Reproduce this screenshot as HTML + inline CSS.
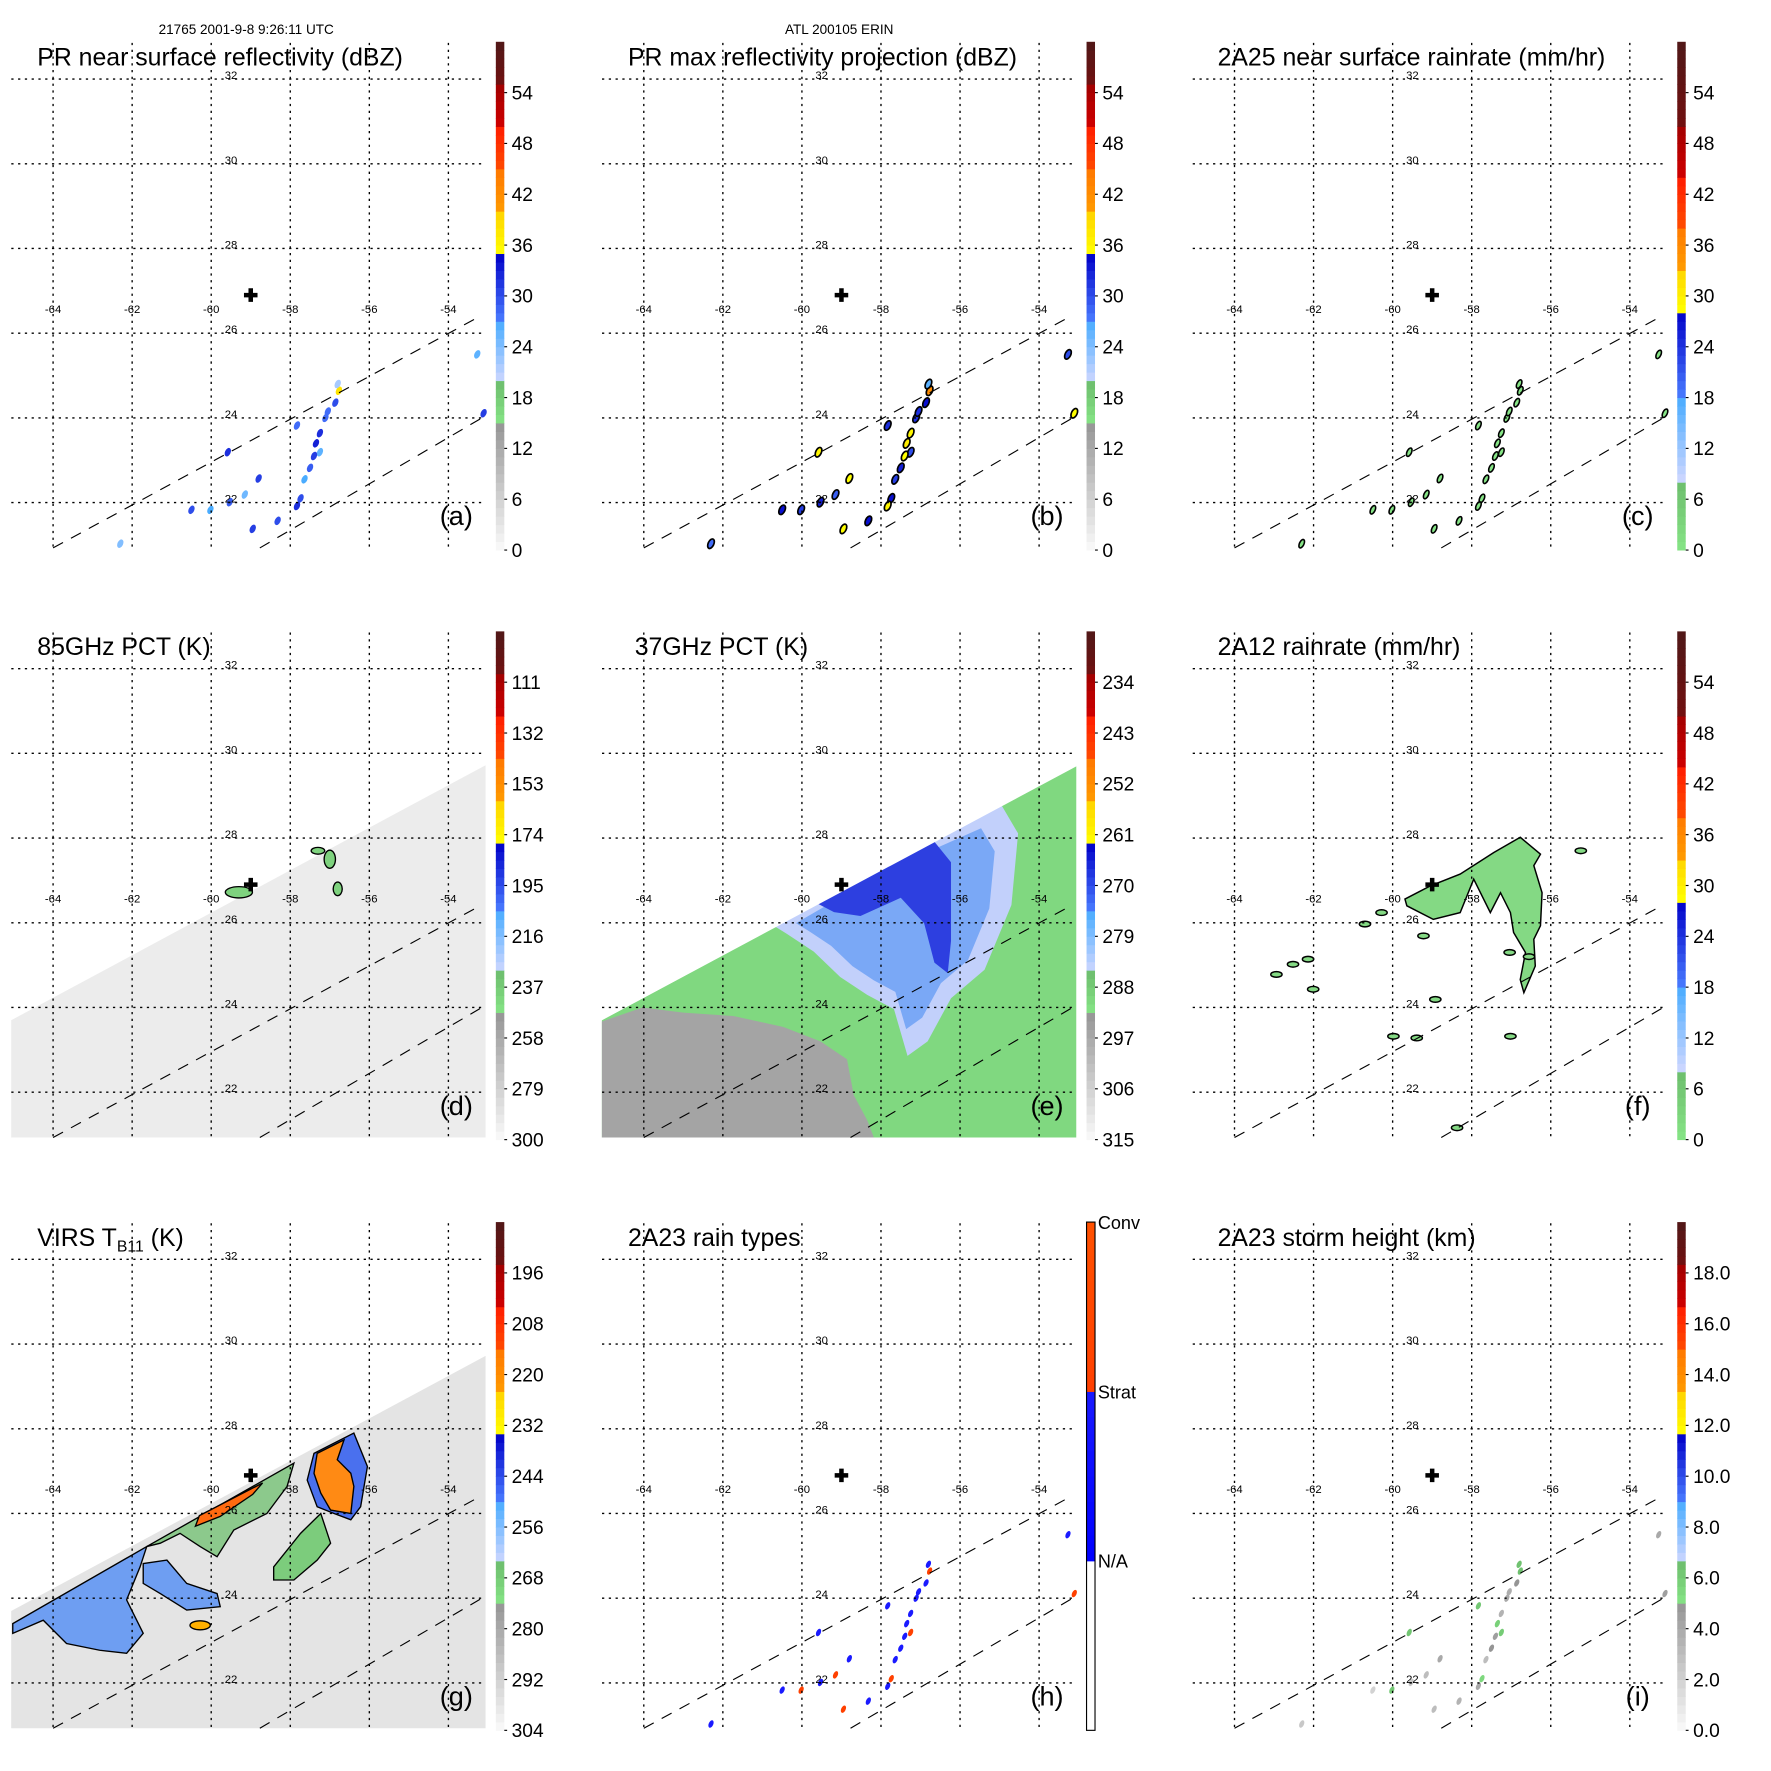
<!DOCTYPE html>
<html><head><meta charset="utf-8"><style>
html,body{margin:0;padding:0;background:#fff;}
svg{display:block;font-family:"Liberation Sans",Arial,sans-serif;}
</style></head><body>
<svg id="fig" width="1771" height="1771" viewBox="0 0 1568 1568" xmlns="http://www.w3.org/2000/svg">
<text x="218" y="30" font-size="12" text-anchor="middle">21765 2001-9-8 9:26:11 UTC</text>
<text x="743" y="30" font-size="12" text-anchor="middle">ATL 200105 ERIN</text>
</svg>
<script>
// ---- data arrays ----
const lonTicks = [-64,-62,-60,-58,-56,-54];
const latTicks = [32,30,28,26,24,22];
const panelTitles = ["PR near surface reflectivity (dBZ)","PR max reflectivity projection (dBZ)","2A25 near surface rainrate (mm/hr)","85GHz PCT (K)","37GHz PCT (K)","2A12 rainrate (mm/hr)","VIRS T","2A23 rain types","2A23 storm height (km)"];
const panelLetters = ["(a)","(b)","(c)","(d)","(e)","(f)","(g)","(h)","(i)"];
const tickA = ["0","6","12","18","24","30","36","42","48","54"];
const tickD = ["300","279","258","237","216","195","174","153","132","111"];
const tickE = ["315","306","297","288","279","270","261","252","243","234"];
const tickG = ["304","292","280","268","256","244","232","220","208","196"];
const tickI = ["0.0","2.0","4.0","6.0","8.0","10.0","12.0","14.0","16.0","18.0"];
const tickH = ["N/A","Strat","Conv"];
const centerLon = -59.0, centerLat = 26.9;
// PR echo cells (lon, lat)
const cellLon = [-56.77,-56.86,-57.11,-57.25,-57.25,-57.40,-57.50,-57.64,-57.74,-57.83,-57.83,-59.58,-58.80,-59.15,-59.53,-60.02,-60.50,-62.30,-58.95,-58.32,-53.27,-53.11,-56.80,-57.05,-57.35];
const cellLat = [24.64,24.36,24.00,23.64,23.19,23.10,22.82,22.55,22.10,21.92,23.82,23.19,22.57,22.19,22.01,21.83,21.83,21.03,21.38,21.57,25.50,24.11,24.80,24.15,23.40];
const cellDbz = [38,30,28,32,26,31,29,27,30,32,28,32,31,25,29,27,30,24,31,30,26,31,22,28,33];
const cellType = [2,1,1,1,2,1,1,1,2,1,1,1,1,2,1,2,1,1,2,1,1,2,1,1,1];
const cellHeight = [6.5,5,4,3.5,6,4.5,5,3,5.5,4,6.2,6.3,4,3,2.5,6.1,2,2.5,3,3.5,4,4.5,6.4,3.8,5.8];
// PMW swath upper edge (lon, lat)
const swathLon = [-65.06,-53.06];
const swathLat = [23.70,29.72];
// 37GHz regions
const grayLon = [-65.06,-64.03,-63.0,-61.74,-60.47,-59.53,-58.86,-58.69,-58.35,-58.18,-65.06];
const grayLat = [23.67,24.0,23.88,23.8,23.54,23.2,22.78,21.93,21.34,20.93,20.93];
const lblueLon = [-60.81,-59.70,-58.35,-56.82,-54.96,-54.53,-54.70,-55.38,-56.23,-56.82,-57.33,-57.67,-58.35,-59.03,-59.70,-60.38];
const lblueLat = [25.99,26.59,27.26,28.02,28.79,28.11,26.42,24.89,24.22,23.20,22.86,23.96,24.30,24.72,25.32,25.74];
const dblueLon = [-59.70,-57.75,-56.74,-56.23,-56.23,-56.31,-56.65,-56.91,-57.50,-58.52,-59.19];
const dblueLat = [26.50,27.43,28.02,27.43,25.57,24.81,25.06,25.99,26.59,26.16,26.25];
// 2A12 rain region
const rainLon = [-59.69,-59.05,-58.29,-57.44,-56.77,-56.26,-56.43,-56.22,-56.26,-56.43,-56.39,-56.68,-56.77,-56.64,-56.94,-57.02,-57.27,-57.53,-57.95,-58.29,-58.97,-59.64];
const rainLat = [26.56,26.87,27.15,27.66,28.02,27.62,27.35,26.71,25.93,25.61,24.98,24.35,24.66,25.30,25.77,26.24,26.71,26.24,27.03,26.24,26.08,26.40];
const rainBlobLon = [-59.22,-62.94,-62.52,-62.14,-62.01,-60.70,-60.28,-59.98,-59.39,-58.92,-57.02,-57.04,-55.24,-58.37,-56.55];
const rainBlobLat = [25.69,24.78,25.02,25.14,24.43,25.97,26.24,23.32,23.28,24.19,23.32,25.30,27.70,21.16,25.20];
// VIRS cloud regions
const virs1Lon = [-65.02,-61.63,-61.80,-62.14,-61.72,-62.14,-62.82,-63.66,-64.25,-65.02];
const virs1Lat = [23.40,25.22,24.74,23.96,23.17,22.70,22.77,22.93,23.48,23.17];
const virs2Lon = [-61.63,-57.91,-58.08,-58.59,-59.43,-59.85,-60.28,-60.79,-61.29];
const virs2Lat = [25.22,27.19,26.64,26.00,25.61,24.98,25.22,25.53,25.30];
const virs3Lon = [-61.72,-61.12,-60.62,-59.85,-59.77,-60.62,-61.29,-61.72];
const virs3Lat = [24.82,24.90,24.35,24.11,23.80,23.72,24.11,24.35];
const virs4Lon = [-57.40,-56.39,-56.05,-56.22,-56.47,-56.89,-57.32,-57.57];
const virs4Lat = [27.42,27.90,27.11,26.16,25.85,26.00,26.16,26.79];
const virsOrLon = [-57.32,-56.64,-56.81,-56.47,-56.39,-56.47,-56.98,-57.23,-57.40];
const virsOrLat = [27.42,27.74,27.27,26.95,26.64,26.00,26.08,26.48,26.95];
const virsEdgeLon = [-60.30,-58.70,-58.95,-59.77,-60.40];
const virsEdgeLat = [25.95,26.72,26.45,25.93,25.70];
const virsGrLon = [-58.42,-57.74,-57.23,-56.98,-57.32,-57.91,-58.42];
const virsGrLat = [24.74,25.53,26.00,25.30,24.90,24.43,24.43];

// ---- helpers ----
const NS="http://www.w3.org/2000/svg";
const svg=document.getElementById('fig');
const OX=[0,523,1046], OY=[0,522,1045];
function X(p,lon){return p.ox+47+(lon+64)*35;}
function Y(p,lat){return p.oy+70+(32-lat)*37.5;}
function mk(tag,attrs,parent){const e=document.createElementNS(NS,tag);for(const k in attrs)e.setAttribute(k,attrs[k]);(parent||svg).appendChild(e);return e;}
function poly(p,lons,lats){return lons.map((l,i)=>X(p,l).toFixed(1)+','+Y(p,lats[i]).toFixed(1)).join(' ');}
function lerp(a,b,t){const pa=[1,3,5].map(i=>parseInt(a.substr(i,2),16)),pb=[1,3,5].map(i=>parseInt(b.substr(i,2),16));return 'rgb('+pa.map((v,i)=>Math.round(v+(pb[i]-v)*t)).join(',')+')';}
const bandsA=[[0,0.25,'#fafafa','#959595'],[0.25,0.333,'#86e486','#6cbc6c'],[0.333,0.45,'#ccd6ff','#4aacff'],[0.45,0.583,'#4a7cff','#0000c8'],[0.583,0.667,'#ffff00','#ffd200'],[0.667,0.75,'#ff9a00','#ff7800'],[0.75,0.833,'#ff4a00','#ff1e00'],[0.833,0.917,'#d00000','#a00000'],[0.917,1,'#701010','#501818']];
const bandsC=[[0,0.138,'#86e486','#6cbc6c'],[0.138,0.3,'#ccd6ff','#4aacff'],[0.3,0.47,'#4a7cff','#0000c8'],[0.47,0.556,'#ffff00','#ffd200'],[0.556,0.64,'#ff9a00','#ff7800'],[0.64,0.73,'#ff4a00','#ff1e00'],[0.73,0.84,'#d00000','#a00000'],[0.84,1,'#701010','#501818']];
const bandsH=[[0,0.333,'#ffffff','#ffffff'],[0.333,0.667,'#0000ff','#1a1aff'],[0.667,1,'#ff4000','#ff5000']];
function cmap(b,t){for(const s of b){if(t>=s[0]&&t<=s[1])return lerp(s[2],s[3],(t-s[0])/(s[1]-s[0]));}return '#fff';}

const panels=[];
for(let r=0;r<3;r++)for(let c=0;c<3;c++)panels.push({ox:OX[c],oy:OY[r],i:r*3+c});

panels.forEach(p=>{
  const g=mk('g',{});
  
  
  p.g=g;
});

// ---- background fields ----
function swathPoly(p){return poly(p,[swathLon[0],swathLon[1],-53.06,-65.06],[swathLat[0],swathLat[1],20.93,20.93]);}
// d
{const p=panels[3];
 const s=mk('polygon',{points:swathPoly(p),fill:'#ececec'},p.g);
 
 const gl=[[-59.3,26.72,12,5],[-57.0,27.5,5,8],[-56.8,26.8,4,6],[-57.3,27.7,6,3]];
 gl.forEach(b=>{const e=mk('ellipse',{cx:X(p,b[0]),cy:Y(p,b[1]),rx:b[2],ry:b[3],fill:'#7ed27e',stroke:'#000','stroke-width':1.2},p.g);
  });
}
// e
{const p=panels[4];
 const s=mk('polygon',{points:swathPoly(p),fill:'#80d880'},p.g);
 
 const gr=mk('polygon',{points:poly(p,grayLon,grayLat),fill:'#a4a4a4'},p.g);
 
 const lb=mk('polygon',{points:poly(p,lblueLon,lblueLat),fill:'#c2d0fb'},p.g);
 
 const mb=mk('polygon',{points:poly(p,lblueLon.map((l,i)=>l*0.8+(-57.5)*0.2),lblueLat.map((l,i)=>l*0.8+26*0.2)),fill:'#7aa8f6'},p.g);
 
 const db=mk('polygon',{points:poly(p,dblueLon,dblueLat),fill:'#2d3fe0'},p.g);
 
 const cl=mk('polygon',{points:poly(p,[-65.1,-53.0,-53.0,-65.1],[swathLat[0]+(swathLat[1]-swathLat[0])*(-0.04/12),swathLat[1]+0.003,33,33]),fill:'#fff'},p.g);
 
}
// f
{const p=panels[5];
 const rp=mk('polygon',{points:poly(p,rainLon,rainLat),fill:'#84d984',stroke:'#000','stroke-width':1.3},p.g);
 
 rainBlobLon.forEach((l,i)=>{const e=mk('ellipse',{cx:X(p,l),cy:Y(p,rainBlobLat[i]),rx:5,ry:2.5,fill:'#84d984',stroke:'#000','stroke-width':1.3},p.g);
  });
}
// g
{const p=panels[6];
 const s=mk('polygon',{points:swathPoly(p),fill:'#e4e4e4'},p.g);
 
 const regs=[[virs1Lon,virs1Lat,'#6e9ef2','virs-cloud-west'],[virs2Lon,virs2Lat,'#8cc98c','virs-cloud-band'],[virs3Lon,virs3Lat,'#6e9ef2','virs-cloud-arm'],[virsGrLon,virsGrLat,'#7ccc7c','virs-cloud-green'],[virs4Lon,virs4Lat,'#4a70ee','virs-cloud-east'],[virsOrLon,virsOrLat,'#ff8a14','virs-cold-top-east'],[virsEdgeLon,virsEdgeLat,'#ff6a10','virs-cold-top-west']];
 regs.forEach(rg=>{const e=mk('polygon',{points:poly(p,rg[0],rg[1]),fill:rg[2],stroke:'#000','stroke-width':1.2},p.g);
  });
 const y=mk('ellipse',{cx:X(p,-60.28),cy:Y(p,23.36),rx:9,ry:4,fill:'#ffb000',stroke:'#000','stroke-width':1.2},p.g);
 
}

// ---- PR cells for a,b,c,h,i ----
cellLon.forEach((l,i)=>{
  const la=cellLat[i];
  {const p=panels[0];const e=mk('ellipse',{cx:X(p,l),cy:Y(p,la),rx:2.5,ry:4,fill:cmap(bandsA,cellDbz[i]/60),transform:`rotate(25 ${X(p,l)} ${Y(p,la)})`},p.g);
   }
  {const p=panels[1];const e=mk('ellipse',{cx:X(p,l),cy:Y(p,la),rx:2.5,ry:4.5,fill:cmap(bandsA,(cellDbz[i]+4)/60),stroke:'#000','stroke-width':1.5,transform:`rotate(25 ${X(p,l)} ${Y(p,la)})`},p.g);
   }
  {const p=panels[2];const e=mk('ellipse',{cx:X(p,l),cy:Y(p,la),rx:2,ry:4,fill:'#86e486',stroke:'#000','stroke-width':1.4,transform:`rotate(25 ${X(p,l)} ${Y(p,la)})`},p.g);
   }
  {const p=panels[7];const e=mk('ellipse',{cx:X(p,l),cy:Y(p,la),rx:2,ry:3.5,fill:cellType[i]===2?'#ff4000':'#1a1aff',transform:`rotate(25 ${X(p,l)} ${Y(p,la)})`},p.g);
   }
  {const p=panels[8];const e=mk('ellipse',{cx:X(p,l),cy:Y(p,la),rx:2,ry:3.5,fill:cmap(bandsA,cellHeight[i]/20),transform:`rotate(25 ${X(p,l)} ${Y(p,la)})`},p.g);
   }
});

// ---- grid, swath lines, labels, colorbars ----
panels.forEach(p=>{
  const g=p.g;
  latTicks.forEach(lat=>{const ln=mk('line',{x1:p.ox+10,x2:p.ox+430,y1:Y(p,lat),y2:Y(p,lat),stroke:'#000','stroke-width':1.2,'stroke-dasharray':'2,4'},g);
    
    const t=mk('text',{x:X(p,-59.5),y:Y(p,lat),'font-size':10,'text-anchor':'middle'},g);t.textContent=lat;
    });
  lonTicks.forEach(lon=>{const ln=mk('line',{x1:X(p,lon),x2:X(p,lon),y1:p.oy+38,y2:p.oy+485,stroke:'#000','stroke-width':1.2,'stroke-dasharray':'2,4'},g);
    
    const t=mk('text',{x:X(p,lon),y:p.oy+277,'font-size':10,'text-anchor':'middle'},g);t.textContent=lon;
    });
  const d1=mk('line',{x1:X(p,-64),y1:Y(p,20.93),x2:X(p,-53.2),y2:Y(p,26.4),stroke:'#000','stroke-width':1,'stroke-dasharray':'10,8'},g);
  
  const d2=mk('line',{x1:X(p,-58.77),y1:Y(p,20.93),x2:X(p,-53.06),y2:Y(p,24.05),stroke:'#000','stroke-width':1,'stroke-dasharray':'10,8'},g);
  
  const cx=X(p,centerLon),cy=Y(p,centerLat);
  const cr=mk('path',{d:`M${cx-6} ${cy}H${cx+6}M${cx} ${cy-6}V${cy+6}`,stroke:'#000','stroke-width':4},g);
  
  const tt=mk('text',{x:p.ox+33,y:p.oy+58,'font-size':22},g);
  if(p.i%3===2)tt.setAttribute('x',p.ox+32);
  if(p.i===4)tt.setAttribute('x',p.ox+39);
  
  tt.textContent=panelTitles[p.i];
  if(p.i===6){const sub=mk('tspan',{'font-size':14,dy:5},tt);sub.textContent='B11';const r=mk('tspan',{dy:-5},tt);r.textContent=' (K)';}
  const lt=mk('text',{x:p.ox+404,y:p.oy+465,'font-size':24,'text-anchor':'middle'},g);lt.textContent=panelLetters[p.i];
  
  const bx=p.ox+439,top=p.oy+37,bot=p.oy+487,H=bot-top;
  const bands=[2,5].includes(p.i)?bandsC:(p.i===7?bandsH:bandsA);
  const cb=mk('g',{},g);
  const N=60;
  for(let k=0;k<N;k++){const t=(k+0.5)/N;mk('rect',{x:bx,y:bot-(k+1)*H/N,width:7.5,height:H/N+0.4,fill:cmap(bands,t)},cb);}
  if(p.i===7){mk('rect',{x:bx,y:top,width:7.5,height:H,fill:'none',stroke:'#000','stroke-width':1},cb);
    tickH.forEach((s,k)=>{const yy=bot-(k+1)*H/3;const t=mk('text',{x:bx+10,y:yy+6,'font-size':16},cb);t.textContent=s;
      });}
  else{const labs=[tickA,tickA,tickA,tickD,tickE,tickA,tickG,null,tickI][p.i];
    labs.forEach((s,k)=>{const yy=bot-k*H/10;mk('line',{x1:bx+7.5,x2:bx+10,y1:yy,y2:yy,stroke:'#000','stroke-width':1},cb);
      const t=mk('text',{x:bx+14,y:yy+6,'font-size':17},cb);t.textContent=s;
      });}
});
</script>
</body></html>
